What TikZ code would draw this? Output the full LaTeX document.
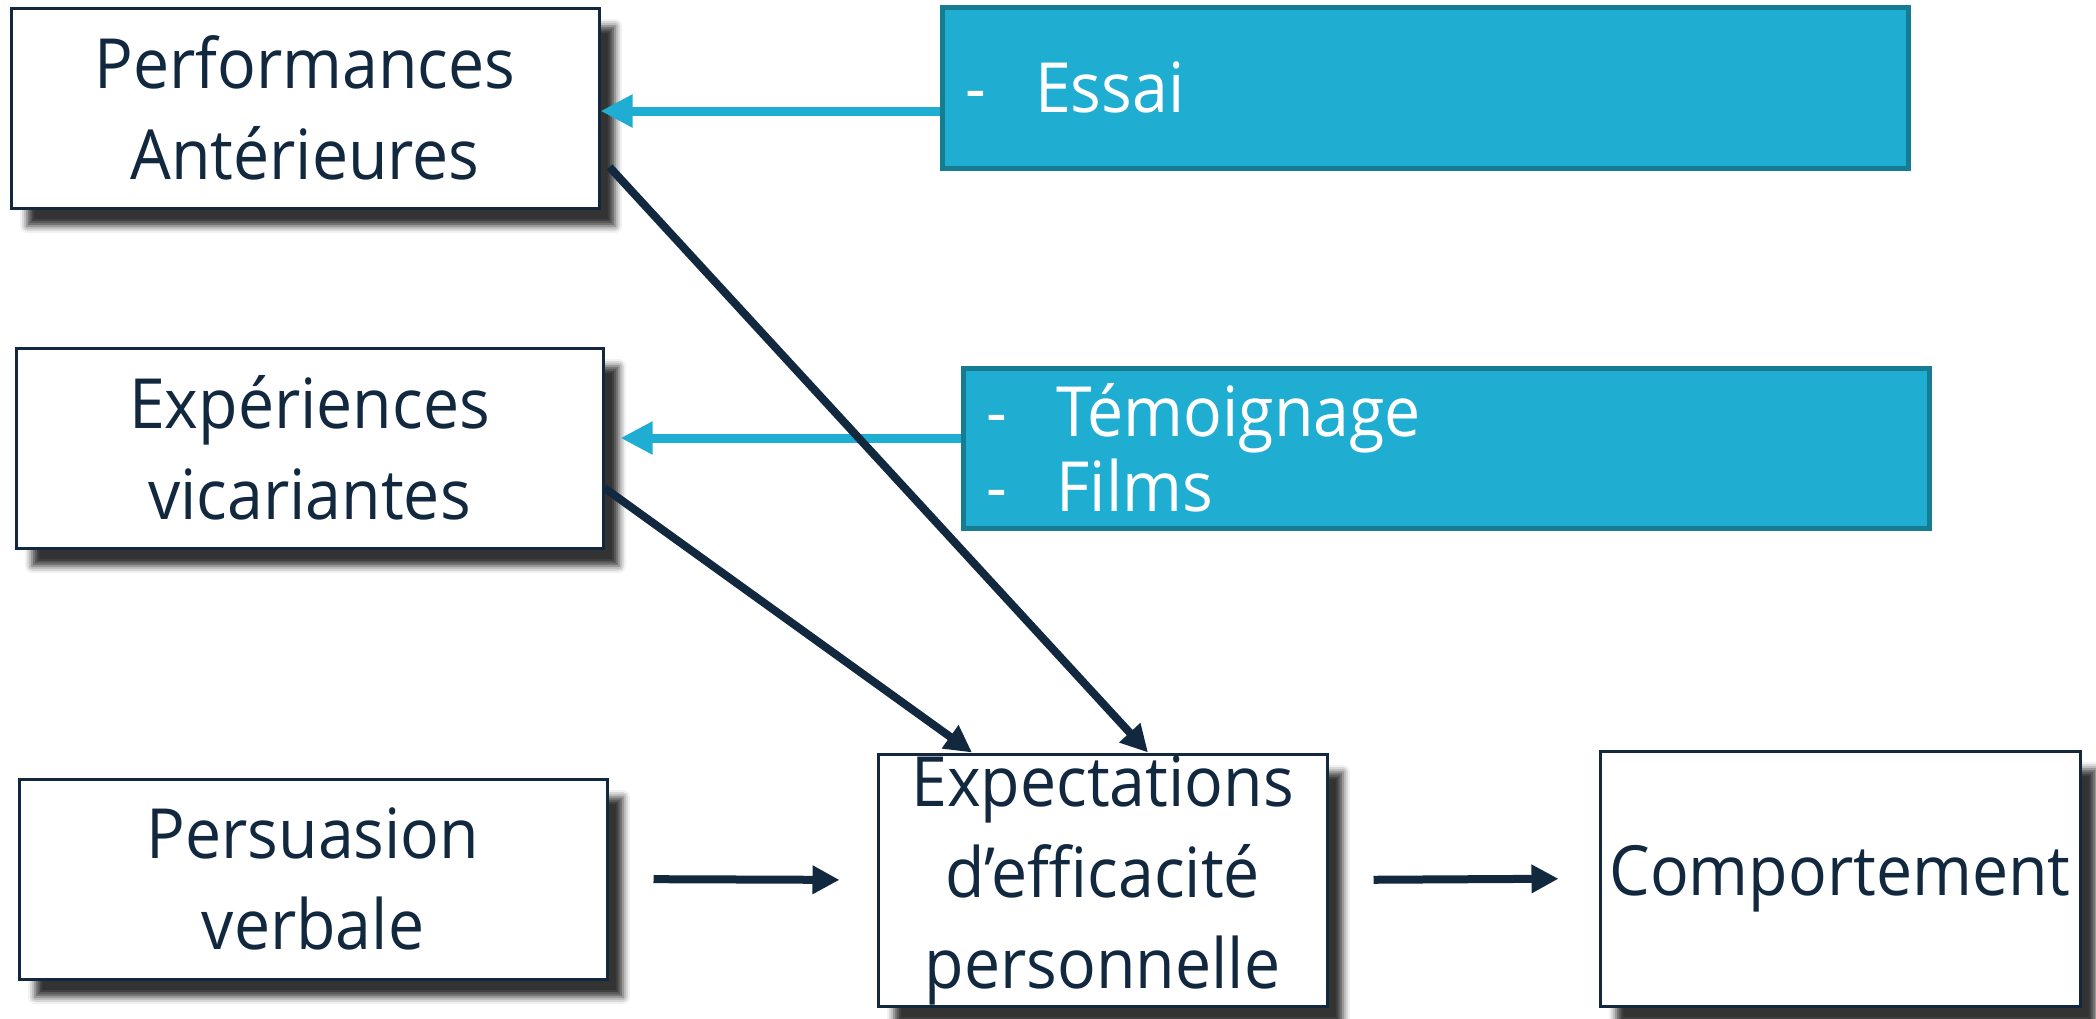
\documentclass[tikz,border=0pt]{standalone}
\usepackage{fontspec}
\setmainfont{Open Sans}[FakeStretch=0.93]
\usetikzlibrary{arrows.meta,shadows.blur}
\definecolor{marine}{HTML}{11283F}
\definecolor{turquoise}{HTML}{1FADD1}
\definecolor{sarcelle}{HTML}{167C91}
\newcommand{\tiret}[1]{\makebox[0.7cm][l]{-}#1}

\begin{document}
\begin{tikzpicture}[
		every node/.style={text=marine, inner sep=0},
		facteur/.style={draw=marine, line width=0.03cm, fill=white, align=center,
			font=\fontsize{19.7}{25.9}\selectfont,
			blur shadow={shadow xshift=0.16cm, shadow yshift=-0.18cm, shadow blur radius=0.07cm, shadow opacity=80}},
		source/.style={draw=sarcelle, line width=0.05cm, fill=turquoise, text=white, align=left,
			inner xsep=0.23cm, text width=9.2cm, font=\fontsize{19.7}{21.3}\selectfont},
		fleche/.style={draw=marine, line width=0.08cm, -{Triangle[length=0.27cm, width=0.27cm]}},
		lien/.style={draw=turquoise, line width=0.09cm, -{Triangle[length=0.32cm, width=0.31cm]}},
	]
	\useasboundingbox (0,0) rectangle (20.96,-10.18);
	\node[facteur, minimum width=5.88cm, minimum height=2cm] (perf) at (3.05,-1.08) {Performances\\Antérieures};
	\node[facteur, minimum width=5.87cm, minimum height=2cm] (exper) at (3.095,-4.48) {Expériences\\vicariantes};
	\node[facteur, minimum width=5.88cm, minimum height=2cm] (persu) at (3.13,-8.79) {Persuasion\\verbale};
	\node[facteur, minimum width=4.49cm, minimum height=2.52cm] (expect) at (11.025,-8.80) {};
	\node[align=center, font=\fontsize{19.7}{25.9}\selectfont] (expecttxt) at (expect.center) {Expectations\\ d’efficacité\\personnelle};
	\node[facteur, minimum width=4.80cm, minimum height=2.55cm] (comport) at (18.40,-8.785) {Comportement};

	\node[source, minimum height=1.61cm] (essai) at (14.25,-0.875) {\tiret{Essai}};
	\node[source, minimum height=1.60cm] (temoin) at (14.465,-4.48) {\tiret{Témoignage}\\\tiret{Films}};

	\draw[lien] ([yshift=-0.235cm]essai.west) -- ([yshift=-0.03cm]perf.east);
	\draw[lien, shorten >=0.16cm] ([yshift=0.10cm]temoin.west) -- ([yshift=0.10cm]exper.east);
	\draw[fleche] ([xshift=0.09cm, yshift=-0.59cm]perf.east) -- ([xshift=0.455cm]expect.north);
	\draw[fleche] ([yshift=-0.40cm]exper.east) -- ([xshift=-1.305cm]expect.north);
	\draw[fleche, shorten <=0.45cm, shorten >=0.37cm] (persu.east) -- (expect.west);
	\draw[fleche, shorten <=0.45cm, shorten >=0.40cm] (expect.east) -- (comport.west);
\end{tikzpicture}
\end{document}
